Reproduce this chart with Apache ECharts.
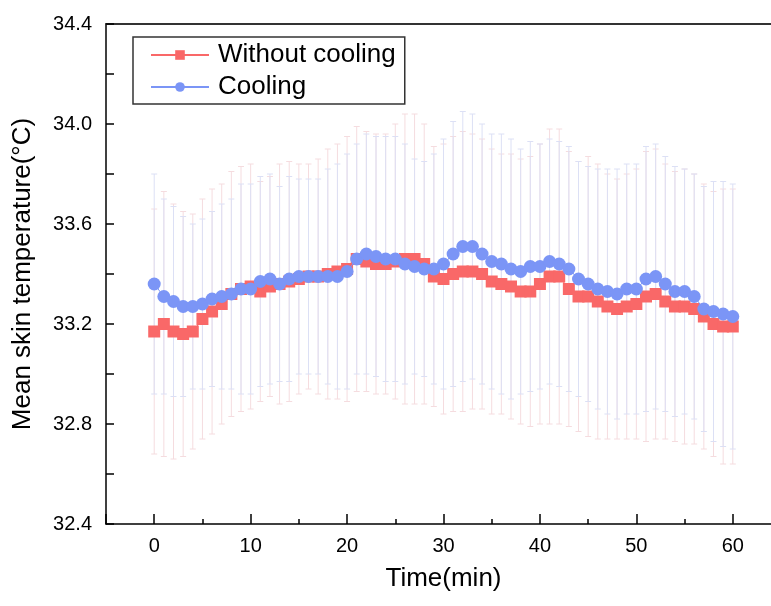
<!DOCTYPE html>
<html>
<head>
<meta charset="utf-8">
<script src="https://cdn.jsdelivr.net/npm/echarts@6/dist/echarts.min.js"></script>
<style>
  html, body { margin: 0; padding: 0; background: #fff; }
  #chart { width: 771px; height: 606px; }
</style>
</head>
<body>
<div id="chart"></div>
<script>
// time axis, minutes
const minutes = [];
for (let m = 0; m <= 60; m++) minutes.push(m);

// mean skin temperature
const withoutCooling = [33.17, 33.20, 33.17, 33.16, 33.17, 33.22, 33.25, 33.28, 33.32, 33.34,
    33.35, 33.33, 33.35, 33.36, 33.37, 33.38, 33.39, 33.39, 33.40, 33.41,
    33.42, 33.46, 33.45, 33.44, 33.44, 33.45, 33.46, 33.46, 33.44, 33.39,
    33.38, 33.40, 33.41, 33.41, 33.40, 33.37, 33.36, 33.35, 33.33, 33.33,
    33.36, 33.39, 33.39, 33.34, 33.31, 33.31, 33.29, 33.27, 33.26, 33.27,
    33.28, 33.31, 33.32, 33.29, 33.27, 33.27, 33.26, 33.23, 33.20, 33.19, 33.19];
const cooling = [33.36, 33.31, 33.29, 33.27, 33.27, 33.28, 33.30, 33.31, 33.32, 33.34,
    33.34, 33.37, 33.38, 33.36, 33.38, 33.39, 33.39, 33.39, 33.39, 33.39,
    33.41, 33.46, 33.48, 33.47, 33.46, 33.46, 33.44, 33.43, 33.42, 33.42,
    33.44, 33.48, 33.51, 33.51, 33.48, 33.45, 33.44, 33.42, 33.41, 33.43,
    33.43, 33.45, 33.44, 33.42, 33.38, 33.36, 33.34, 33.33, 33.32, 33.34,
    33.34, 33.38, 33.39, 33.36, 33.33, 33.33, 33.31, 33.26, 33.25, 33.24, 33.23];

// standard deviations (error bars)
const sdWithout = [0.49, 0.53, 0.51, 0.49, 0.47, 0.48, 0.49, 0.48, 0.49, 0.49,
    0.49, 0.44, 0.44, 0.48, 0.48, 0.46, 0.45, 0.47, 0.50, 0.51,
    0.53, 0.53, 0.52, 0.52, 0.52, 0.55, 0.58, 0.58, 0.56, 0.52,
    0.54, 0.55, 0.56, 0.55, 0.54, 0.53, 0.52, 0.53, 0.53, 0.54,
    0.56, 0.59, 0.59, 0.55, 0.54, 0.56, 0.55, 0.53, 0.52, 0.53,
    0.54, 0.58, 0.58, 0.55, 0.54, 0.55, 0.54, 0.53, 0.53, 0.55, 0.55];
const sdCooling = [0.44, 0.39, 0.38, 0.36, 0.33, 0.34, 0.35, 0.37, 0.38, 0.42,
    0.42, 0.42, 0.42, 0.39, 0.41, 0.39, 0.39, 0.39, 0.43, 0.45,
    0.47, 0.46, 0.48, 0.48, 0.49, 0.49, 0.48, 0.43, 0.43, 0.46,
    0.50, 0.53, 0.54, 0.53, 0.52, 0.51, 0.52, 0.52, 0.49, 0.50,
    0.49, 0.49, 0.49, 0.49, 0.47, 0.47, 0.48, 0.49, 0.50, 0.50,
    0.50, 0.53, 0.53, 0.51, 0.50, 0.49, 0.49, 0.49, 0.52, 0.53, 0.53];

const yTicks = [32.4, 32.8, 33.2, 33.6, 34.0, 34.4];

const FONT = 'Liberation Sans, Arial, sans-serif';
const RED = '#F96868';
const BLUE = '#7B95F6';

function pairs(ys) {
    return minutes.map((m, i) => [m, ys[i]]);
}

function bars(ys, sd) {
    return minutes.map((m, i) => [m, ys[i] - sd[i], ys[i] + sd[i]]);
}

function errorBar(color) {
    return function (params, api) {
        const x = api.value(0);
        const lo = api.coord([x, api.value(1)]);
        const hi = api.coord([x, api.value(2)]);
        const style = { stroke: color, lineWidth: 1 };
        return {
            type: 'group',
            children: [
                { type: 'line', shape: { x1: hi[0], y1: hi[1], x2: lo[0], y2: lo[1] }, style: style },
                { type: 'line', shape: { x1: hi[0] - 3, y1: hi[1], x2: hi[0] + 3, y2: hi[1] }, style: style },
                { type: 'line', shape: { x1: lo[0] - 3, y1: lo[1], x2: lo[0] + 3, y2: lo[1] }, style: style }
            ]
        };
    };
}

const chart = echarts.init(document.getElementById('chart'));

chart.setOption({
    animation: false,
    backgroundColor: '#fff',
    // plot frame runs past the right edge of the picture
    grid: { left: 106, right: -10, top: 24, bottom: 82, outerBoundsMode: 'none' },
    legend: {
        data: ['Without cooling', 'Cooling'],
        orient: 'vertical',
        left: 133,
        top: 37,
        borderColor: '#333',
        borderWidth: 1.5,
        padding: [5, 9, 4, 17],
        itemWidth: 58,
        itemHeight: 12,
        itemGap: 6,
        textStyle: { fontSize: 26, fontFamily: FONT, color: '#000', lineHeight: 26, padding: [0, 0, 0, 4] }
    },
    xAxis: [{
        type: 'value',
        min: -5,
        max: 65,
        name: 'Time(min)',
        nameLocation: 'middle',
        nameGap: 42,
        nameTextStyle: { fontSize: 26, fontFamily: FONT, color: '#000' },
        axisLine: { onZero: false, lineStyle: { color: '#000', width: 1.5 } },
        axisTick: { inside: true, length: 10, lineStyle: { color: '#000', width: 1.5 } },
        minorTick: { show: true, splitNumber: 2, length: 5, lineStyle: { color: '#000', width: 1.5 } },
        axisLabel: {
            margin: 12,
            fontSize: 20,
            fontFamily: FONT,
            color: '#000',
            showMinLabel: false,
            showMaxLabel: false,
            formatter: v => (v % 10 === 0 ? String(v) : '')
        },
        splitLine: { show: false }
    }, {
        type: 'value',
        position: 'top',
        min: -5,
        max: 65,
        axisLine: { onZero: false, lineStyle: { color: '#333', width: 2 } },
        axisTick: { show: false },
        axisLabel: { show: false },
        splitLine: { show: false }
    }],
    yAxis: {
        type: 'value',
        min: yTicks[0],
        max: yTicks[yTicks.length - 1],
        interval: 0.4,
        name: 'Mean skin temperature(°C)',
        nameLocation: 'middle',
        nameGap: 70,
        nameTextStyle: { fontSize: 26, fontFamily: FONT, color: '#000', padding: [0, 0, 0, 0] },
        axisLine: { show: true, onZero: false, lineStyle: { color: '#000', width: 1.5 } },
        axisTick: { inside: true, length: 8, lineStyle: { color: '#000', width: 1.5 } },
        minorTick: { show: true, splitNumber: 2, length: 8, lineStyle: { color: '#000', width: 1.5 } },
        axisLabel: {
            margin: 14,
            fontSize: 20,
            fontFamily: FONT,
            color: '#000',
            formatter: v => v.toFixed(1)
        },
        splitLine: { show: false }
    },
    series: [
        {
            name: 'sd-without',
            type: 'custom',
            renderItem: errorBar('#F5DCDF'),
            encode: { x: 0, y: [1, 2] },
            data: bars(withoutCooling, sdWithout),
            z: 1
        },
        {
            name: 'sd-cooling',
            type: 'custom',
            renderItem: errorBar('#DCE0F5'),
            encode: { x: 0, y: [1, 2] },
            data: bars(cooling, sdCooling),
            z: 1
        },
        {
            name: 'Without cooling',
            type: 'line',
            data: pairs(withoutCooling),
            symbol: 'rect',
            symbolSize: 12,
            itemStyle: { color: RED },
            lineStyle: { color: RED, width: 1 },
            z: 3
        },
        {
            name: 'Cooling',
            type: 'line',
            data: pairs(cooling),
            symbol: 'circle',
            symbolSize: 13,
            itemStyle: { color: BLUE },
            lineStyle: { color: BLUE, width: 1 },
            z: 4
        }
    ]
});
</script>
</body>
</html>
